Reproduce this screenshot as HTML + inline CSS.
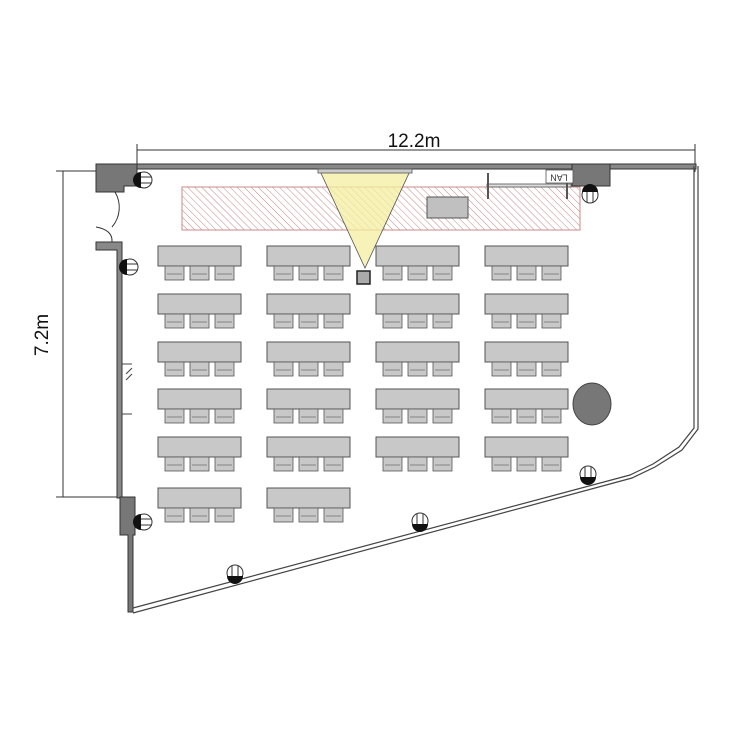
<!DOCTYPE html>
<html><head><meta charset="utf-8"><style>body{margin:0;background:#fff}svg{display:block}</style></head>
<body>
<svg width="750" height="750" viewBox="0 0 750 750" xmlns="http://www.w3.org/2000/svg">
<defs>
<pattern id="h" width="5" height="5" patternUnits="userSpaceOnUse" patternTransform="rotate(-45)">
<line x1="0" y1="0" x2="0" y2="5" stroke="#c07a7a" stroke-width="0.9"/></pattern>
<g id="t">
<rect x="0" y="0" width="83" height="20" fill="#c8c8c8" stroke="#555" stroke-width="1"/>
<g fill="#c8c8c8" stroke="#555" stroke-width="0.8">
<rect x="7" y="20" width="19" height="14"/><rect x="32" y="20" width="19" height="14"/><rect x="57" y="20" width="19" height="14"/>
</g>
<g stroke="#555" stroke-width="0.6" fill="none">
<line x1="9" y1="28" x2="24" y2="28"/><line x1="34" y1="28" x2="49" y2="28"/><line x1="59" y1="28" x2="74" y2="28"/>
</g>
</g>
<g id="o"><circle r="8" fill="#fff" stroke="#333"/><line x1="-3" y1="-7" x2="-3" y2="7" stroke="#333"/><line x1="3" y1="-7" x2="3" y2="7" stroke="#333"/><path d="M-8 0 A8 8 0 0 0 8 0 Z" fill="#111" transform="translate(0,3)"/></g>
</defs>

<g stroke="#333" stroke-width="1">
<line x1="137" y1="150" x2="695" y2="150"/><line x1="137" y1="144" x2="137" y2="172"/><line x1="695" y1="144" x2="695" y2="172"/>
<line x1="63" y1="171" x2="63" y2="497"/><line x1="56" y1="171" x2="125" y2="171"/><line x1="56" y1="497" x2="125" y2="497"/>
</g>
<text x="414" y="147" font-family="Liberation Sans, sans-serif" font-size="19" text-anchor="middle" fill="#111">12.2m</text>
<text transform="translate(48,335) rotate(-90)" font-family="Liberation Sans, sans-serif" font-size="19" text-anchor="middle" fill="#111">7.2m</text>

<rect x="96" y="164" width="600" height="5" fill="#888" stroke="#333" stroke-width="1"/>
<path d="M96 164 H137 V186 H124 V192 H96 Z" fill="#777" stroke="#333"/>
<path d="M572 164 H610 V186 H572 Z" fill="#777" stroke="#333"/>
<path d="M96 242 H122 V498 H117 V250 H96 Z" fill="#888" stroke="#333"/>
<path d="M120 497 H135 V535 H133 V612 H128 V535 H120 Z" fill="#777" stroke="#333"/>
<path d="M115 192 A30 30 0 0 1 112 227 M96 227 Q113 230 112 242" fill="none" stroke="#333"/>
<g fill="none" stroke="#444" stroke-width="1.2">
<polyline points="694,166 694,428 679,447 653,464 630,475 133,608"/>
<polyline points="698,166 698,429 682,450 655,467 632,478 133,613"/>
</g>
<g stroke="#444"><line x1="122" y1="364" x2="132" y2="364"/><line x1="122" y1="414" x2="132" y2="414"/><line x1="126" y1="374" x2="132" y2="368"/><line x1="126" y1="380" x2="132" y2="374"/></g>

<rect x="182" y="187" width="398" height="43" fill="url(#h)" stroke="#c98a8a"/>
<rect x="427" y="197" width="41" height="21" fill="#c0c0c0" stroke="#555"/>
<polygon points="320,171 410,171 365,268" fill="#f4efa0" fill-opacity="0.75" stroke="#555" stroke-width="0.8"/>
<rect x="318" y="169" width="94" height="4" fill="#ccc" stroke="#555" stroke-width="0.8"/>
<rect x="357" y="271" width="13" height="13" fill="#aaa" stroke="#222" stroke-width="1.5"/>
<rect x="487" y="184" width="84" height="3" fill="#ddd" stroke="#555" stroke-width="0.8"/>
<line x1="488" y1="173" x2="488" y2="199" stroke="#555" stroke-width="2"/>
<line x1="567" y1="174" x2="567" y2="199" stroke="#555" stroke-width="2"/>
<rect x="546" y="170" width="27" height="13" fill="#fff" stroke="#555" stroke-width="0.8"/>
<text transform="translate(559,177) rotate(180)" font-family="Liberation Sans, sans-serif" font-size="9" text-anchor="middle" dominant-baseline="middle" fill="#333">LAN</text>

<g>
<use href="#t" x="158" y="246"/><use href="#t" x="267" y="246"/><use href="#t" x="376" y="246"/><use href="#t" x="485" y="246"/>
<use href="#t" x="158" y="294"/><use href="#t" x="267" y="294"/><use href="#t" x="376" y="294"/><use href="#t" x="485" y="294"/>
<use href="#t" x="158" y="342"/><use href="#t" x="267" y="342"/><use href="#t" x="376" y="342"/><use href="#t" x="485" y="342"/>
<use href="#t" x="158" y="389"/><use href="#t" x="267" y="389"/><use href="#t" x="376" y="389"/><use href="#t" x="485" y="389"/>
<use href="#t" x="158" y="437"/><use href="#t" x="267" y="437"/><use href="#t" x="376" y="437"/><use href="#t" x="485" y="437"/>
<use href="#t" x="158" y="488"/><use href="#t" x="267" y="488"/>
</g>
<ellipse cx="592" cy="404" rx="19" ry="21" fill="#777" stroke="#444"/>

<use href="#o" transform="translate(144,180) rotate(90)"/>
<use href="#o" transform="translate(130,267) rotate(90)"/>
<use href="#o" transform="translate(144,522) rotate(90)"/>
<use href="#o" transform="translate(590,195) rotate(180)"/>
<use href="#o" transform="translate(588,474)"/>
<use href="#o" transform="translate(420,521)"/>
<use href="#o" transform="translate(235,573)"/>
</svg>
</body></html>
